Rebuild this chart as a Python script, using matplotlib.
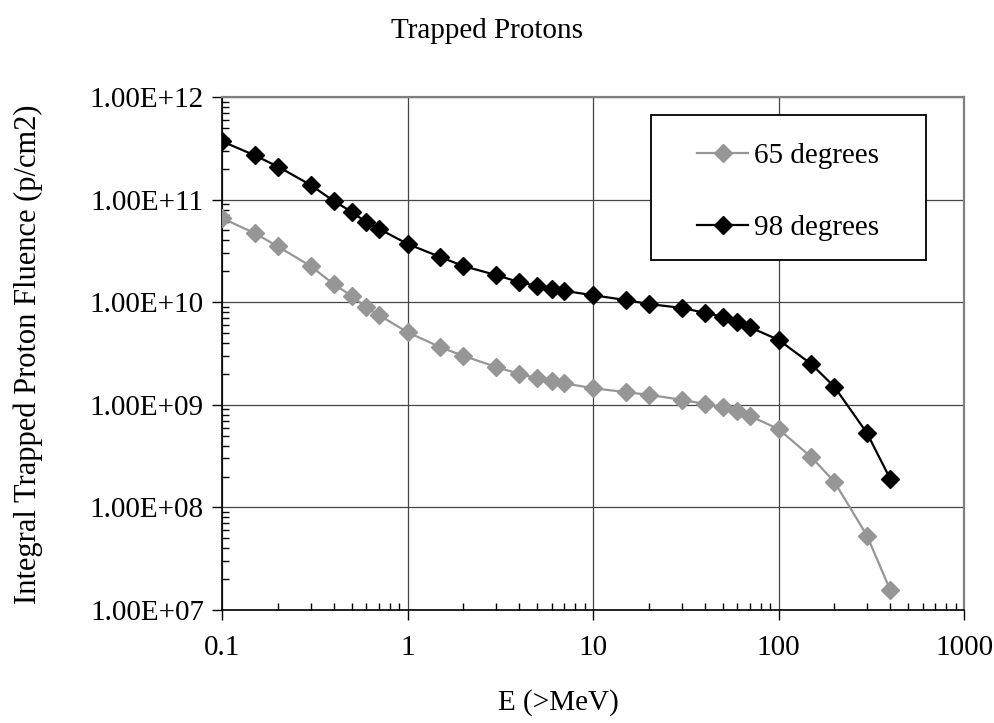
import matplotlib
matplotlib.use("Agg")
import matplotlib.pyplot as plt
from matplotlib.patches import Rectangle
from matplotlib.ticker import FixedLocator, FuncFormatter, LogLocator, NullFormatter

plt.rcParams['font.family'] = ['Liberation Serif', 'DejaVu Serif']

# energy thresholds (>MeV)
energy = [0.1, 0.15, 0.2, 0.3, 0.4, 0.5, 0.6, 0.7, 1, 1.5, 2, 3, 4, 5, 6, 7,
          10, 15, 20, 30, 40, 50, 60, 70, 100, 150, 200, 300, 400]

# integral fluence, 65 degree orbit
fluence_65 = [6.6e10, 4.7e10, 3.5e10, 2.25e10, 1.5e10, 1.15e10, 8.9e9, 7.5e9,
              5.1e9, 3.65e9, 3.0e9, 2.34e9, 2.0e9, 1.82e9, 1.7e9, 1.62e9,
              1.45e9, 1.33e9, 1.25e9, 1.12e9, 1.02e9, 9.5e8, 8.7e8, 7.8e8,
              5.8e8, 3.1e8, 1.78e8, 5.3e7, 1.57e7]

# integral fluence, 98 degree orbit
fluence_98 = [3.7e11, 2.7e11, 2.1e11, 1.39e11, 9.7e10, 7.6e10, 6.0e10, 5.2e10,
              3.7e10, 2.76e10, 2.25e10, 1.84e10, 1.57e10, 1.44e10, 1.35e10, 1.29e10,
              1.17e10, 1.05e10, 9.6e9, 8.8e9, 7.9e9, 7.2e9, 6.4e9, 5.7e9,
              4.3e9, 2.5e9, 1.5e9, 5.3e8, 1.9e8]

xticks = [0.1, 1, 10, 100, 1000]
yticks = [1e7, 1e8, 1e9, 1e10, 1e11, 1e12]

W, H = 995, 723
fig = plt.figure(figsize=(W / 100, H / 100), dpi=100)
ax = fig.add_axes([222 / W, 1 - 610 / H, (964 - 222) / W, (610 - 97) / H])

ax.plot(energy, fluence_65, color='#969696', lw=1.6, marker='D', markersize=9,
        label='65 degrees', zorder=3)
ax.plot(energy, fluence_98, color='black', lw=1.6, marker='D', markersize=9,
        label='98 degrees', zorder=3)

ax.set_xscale('log')
ax.set_yscale('log')
ax.set_xlim(0.1, 1000)
ax.set_ylim(1e7, 1e12)

ax.xaxis.set_major_locator(FixedLocator(xticks))
ax.xaxis.set_major_formatter(FuncFormatter(lambda v, p: f'{v:g}'))
ax.xaxis.set_minor_locator(LogLocator(base=10, subs=range(2, 10)))
ax.xaxis.set_minor_formatter(NullFormatter())
ax.yaxis.set_major_locator(FixedLocator(yticks))
ax.yaxis.set_major_formatter(FuncFormatter(lambda v, p: f'{v:.2E}'))
ax.yaxis.set_minor_locator(LogLocator(base=10, subs=range(2, 10)))
ax.yaxis.set_minor_formatter(NullFormatter())

ax.tick_params(which='major', direction='out', length=7, width=1, labelsize=21)
ax.tick_params(axis='y', which='major', pad=6)
ax.tick_params(axis='x', which='major', pad=11)
ax.tick_params(which='minor', direction='in', length=5, width=1)

ax.grid(True, which='major', color='#454545', lw=0.9)
ax.set_axisbelow(True)

for side in ['top', 'right']:
    ax.spines[side].set_color('#808080')
    ax.spines[side].set_linewidth(1.6)
for side in ['left', 'bottom']:
    ax.spines[side].set_color('black')
    ax.spines[side].set_linewidth(1.2)

fig.text(558 / W, 1 - 703 / H, 'E (>MeV)', ha='center', va='center', fontsize=21)
fig.text(28 / W, 1 - 354 / H, 'Integral Trapped Proton Fluence (p/cm2)',
         ha='center', va='center', rotation=90, fontsize=22)
fig.text(487 / W, 1 - 31 / H, 'Trapped Protons', ha='center', va='center', fontsize=21)

# legend box
box = Rectangle((651 / W, 1 - 260 / H), 275 / W, 145 / H, transform=fig.transFigure,
                facecolor='white', edgecolor='black', lw=1.3, zorder=4)
ax.add_patch(box)

leg = ax.legend(loc='upper left', bbox_to_anchor=(697 / W, 1 - 143 / H),
                bbox_transform=fig.transFigure, fontsize=21, frameon=False,
                labelspacing=1.55, borderpad=0, handlelength=1.75,
                handletextpad=0.22, borderaxespad=0)
leg.set_zorder(5)

fig.savefig('out.png', dpi=100)
